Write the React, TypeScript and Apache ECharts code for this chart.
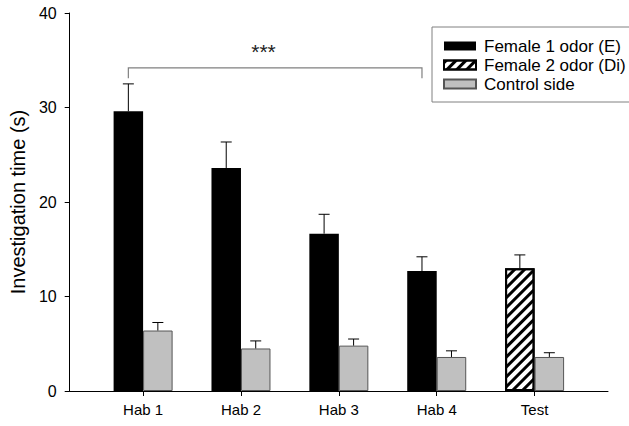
import React, { useEffect, useRef } from 'react';
import * as echarts from 'echarts';

// ---- data ----
const CATEGORIES = ['Hab 1', 'Hab 2', 'Hab 3', 'Hab 4', 'Test'];
const CATEGORY_POS = [0, 1, 2, 3, 4];
// '-' = no bar for that category
const FEMALE1 = [29.6, 23.6, 16.65, 12.7, '-'];
const FEMALE1_ERR = [32.5, 26.35, 18.7, 14.2, '-'];
const FEMALE2 = ['-', '-', '-', '-', 13.0];
const FEMALE2_ERR = ['-', '-', '-', '-', 14.4];
const CONTROL = [6.4, 4.5, 4.8, 3.6, 3.6];
const CONTROL_ERR = [7.25, 5.3, 5.5, 4.25, 4.05];
const Y_TICKS = [0, 10, 20, 30, 40];
const BRACKET = { from: 0, to: 3, top: 34.2, bottom: 33.1, label: '***', labelX: 1.23, labelY: 35.9 };

const LEGEND_NAMES = ['Female 1 odor (E)', 'Female 2 odor (Di)', 'Control side'];

const FONT = '"Liberation Sans", Arial, Helvetica, sans-serif';
const BAR_W = 29.5;
const CAP_W = 11;

export default function App() {
  const ref = useRef<HTMLDivElement>(null);

  useEffect(() => {
    document.body.style.margin = '0';
    if (!ref.current) return;
    const chart = echarts.init(ref.current, undefined, { renderer: 'svg' });

    const errData: any[] = [];
    CATEGORY_POS.forEach((x, i) => {
      if (FEMALE1[i] !== '-') errData.push([x, FEMALE1[i], FEMALE1_ERR[i], -1]);
      if (FEMALE2[i] !== '-') errData.push([x, FEMALE2[i], FEMALE2_ERR[i], -1]);
      errData.push([x, CONTROL[i], CONTROL_ERR[i], 1]);
    });

    const hatch = {
      symbol: 'rect',
      symbolSize: 1,
      color: '#000',
      backgroundColor: '#fff',
      dashArrayX: [1, 0],
      dashArrayY: [3, 4],
      rotation: -Math.PI / 4,
    };

    const option: any = {
      animation: false,
      backgroundColor: '#fff',
      textStyle: { fontFamily: FONT, color: '#000' },
      grid: { left: 67, right: 21, top: 13, bottom: 35, containLabel: false },
      legend: {
        data: LEGEND_NAMES,
        orient: 'vertical',
        left: 432,
        top: 27,
        padding: [10, 8, 9, 11],
        itemGap: 1,
        itemWidth: 32,
        itemHeight: 9,
        borderColor: '#808080',
        borderWidth: 1,
        icon: 'rect',
        selectedMode: false,
        textStyle: { fontSize: 17, color: '#000', fontFamily: FONT, lineHeight: 18, padding: [0, 0, 0, 3] },
      },
      xAxis: {
        type: 'value',
        min: -0.75,
        max: 4.75,
        axisLine: { show: true, onZero: false, lineStyle: { color: '#000', width: 1 } },
        axisTick: { show: true, customValues: CATEGORY_POS, length: 5, lineStyle: { color: '#000' } },
        axisLabel: {
          show: true,
          customValues: CATEGORY_POS,
          formatter: (v: number) => CATEGORIES[Math.round(v)] ?? '',
          fontSize: 15,
          color: '#000',
          fontFamily: FONT,
          margin: 11,
        },
        splitLine: { show: false },
      },
      yAxis: {
        type: 'value',
        min: Y_TICKS[0],
        max: Y_TICKS[Y_TICKS.length - 1],
        interval: 10,
        name: 'Investigation time (s)',
        nameLocation: 'middle',
        nameGap: 39,
        nameTextStyle: { fontSize: 20, color: '#000', fontFamily: FONT },
        axisLine: { show: true, onZero: false, lineStyle: { color: '#000', width: 1 } },
        axisTick: { show: true, length: 5, lineStyle: { color: '#000' } },
        axisLabel: { fontSize: 16, color: '#000', fontFamily: FONT, margin: 13 },
        splitLine: { show: false },
      },
      series: [
        {
          name: LEGEND_NAMES[0],
          type: 'bar',
          stack: 'odor',
          barWidth: BAR_W,
          barGap: '0%',
          data: CATEGORY_POS.map((x, i) => [x, FEMALE1[i]]),
          itemStyle: { color: '#000', borderColor: '#000', borderWidth: 0 },
        },
        {
          name: LEGEND_NAMES[1],
          type: 'bar',
          stack: 'odor',
          barWidth: BAR_W,
          barGap: '0%',
          data: CATEGORY_POS.map((x, i) => [x, FEMALE2[i]]),
          itemStyle: { color: '#fff', borderColor: '#000', borderWidth: 2, decal: hatch },
        },
        {
          name: LEGEND_NAMES[2],
          type: 'bar',
          barWidth: BAR_W,
          barGap: '0%',
          data: CATEGORY_POS.map((x, i) => [x, CONTROL[i]]),
          itemStyle: { color: '#c0c0c0', borderColor: '#555', borderWidth: 1 },
        },
        {
          name: 'errors',
          type: 'custom',
          encode: { x: 0, y: [1, 2] },
          data: errData,
          z: 5,
          renderItem: (params: any, api: any) => {
            const x = api.value(0);
            const v = api.value(1);
            const e = api.value(2);
            const s = api.value(3);
            const pv = api.coord([x, v]);
            const pe = api.coord([x, e]);
            const cx = pv[0] + (s * BAR_W) / 2;
            return {
              type: 'group',
              children: [
                { type: 'line', shape: { x1: cx, y1: pv[1], x2: cx, y2: pe[1] }, style: { stroke: '#000', lineWidth: 1 } },
                { type: 'line', shape: { x1: cx - CAP_W / 2, y1: pe[1], x2: cx + CAP_W / 2, y2: pe[1] }, style: { stroke: '#000', lineWidth: 1 } },
              ],
            };
          },
        },
        {
          name: 'bracket',
          type: 'custom',
          encode: { x: [0, 1], y: [2, 3] },
          data: [[BRACKET.from, BRACKET.to, BRACKET.top, BRACKET.bottom, BRACKET.labelX, BRACKET.labelY]],
          z: 5,
          renderItem: (params: any, api: any) => {
            const a = api.coord([api.value(0), api.value(3)]);
            const b = api.coord([api.value(1), api.value(2)]);
            const t = api.coord([api.value(4), api.value(5)]);
            const x1 = a[0] - BAR_W / 2;
            const x2 = b[0] - BAR_W / 2;
            return {
              type: 'group',
              children: [
                {
                  type: 'polyline',
                  shape: { points: [[x1, a[1]], [x1, b[1]], [x2, b[1]], [x2, a[1]]] },
                  style: { stroke: '#808080', lineWidth: 1.2, fill: 'none' },
                },
                {
                  type: 'text',
                  x: t[0],
                  y: t[1],
                  style: { text: BRACKET.label, fontSize: 21, fontFamily: FONT, fill: '#222', align: 'center', verticalAlign: 'middle' },
                },
              ],
            };
          },
        },
      ],
    };

    chart.setOption(option);
    return () => chart.dispose();
  }, []);

  return <div ref={ref} style={{ width: 629, height: 426 }} />;
}
